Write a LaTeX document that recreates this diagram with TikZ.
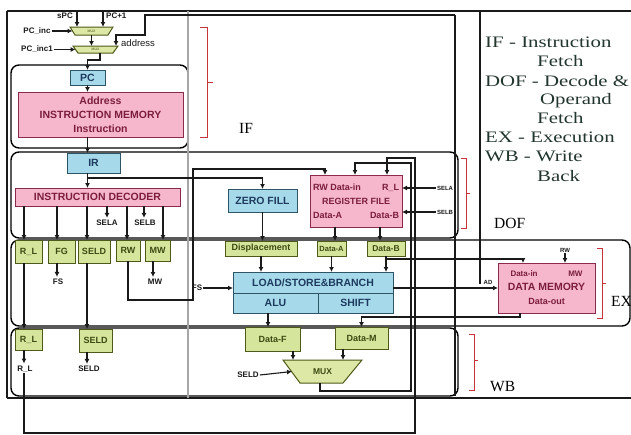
\documentclass[tikz,border=0pt]{standalone}
\usepackage{fontspec}
\setmainfont{Liberation Sans}
\newfontfamily\legendfont[FakeStretch=1.3]{Liberation Serif}
\newfontfamily\stagefont{Liberation Serif}
\usetikzlibrary{arrows.meta,calc}
\definecolor{cblue}{HTML}{A6D9EA}
\definecolor{cblueD}{HTML}{2D5566}
\definecolor{cblueT}{HTML}{1D3B5E}
\definecolor{cpink}{HTML}{F6B6CB}
\definecolor{cpinkD}{HTML}{8C2A4C}
\definecolor{cpinkT}{HTML}{7B1E3E}
\definecolor{cgreen}{HTML}{D5E59C}
\definecolor{cgreenD}{HTML}{4D5A1A}
\definecolor{cgreenT}{HTML}{3D4A12}
\definecolor{cmux}{HTML}{DDE8A6}
\definecolor{cline}{HTML}{1A1A1A}
\definecolor{cred}{HTML}{C8323A}
\definecolor{clegend}{HTML}{23362E}
\newcommand\myBx{\fontsize{10.5}{12}\selectfont\bfseries}
\newcommand\mySm{\fontsize{8}{9}\selectfont\bfseries}
\newcommand\myTn{\fontsize{6}{7}\selectfont\bfseries}
\newcommand\myLg{\legendfont\fontsize{16}{18}\selectfont}
\newcommand\mySt{\stagefont\fontsize{15.5}{18}\selectfont}
\begin{document}
\begin{tikzpicture}[x=1pt,y=-1pt,
  box/.style={draw, inner sep=0pt, outer sep=0pt, line width=1pt, font=\myBx, align=center},
  bluebox/.style={box, fill=cblue, draw=cblueD, text=cblueT},
  pinkbox/.style={box, fill=cpink, draw=cpinkD, text=cpinkT},
  greenbox/.style={box, fill=cgreen, draw=cgreenD, text=cgreenT, font=\fontsize{9}{10}\selectfont\bfseries},
  muxshape/.style={fill=cmux, draw=cgreenD, line width=1pt},
  muxlbl/.style={inner sep=0pt, outer sep=0pt, text=cgreenT},
  conn/.style={line width=1.1pt, draw=cline},
  arr/.style={conn, -{Latex[length=5pt,width=5pt]}},
  stagebox/.style={draw=black, line width=1.4pt, rounded corners=8pt},
  frameline/.style={draw=cline, line width=1.4pt},
  lbl/.style={font=\mySm, text=cline, inner sep=1pt},
  lbls/.style={font=\myTn, text=cline, inner sep=1pt},
  brk/.style={draw=cred, line width=0.9pt},
  legend/.style={font=\myLg, text=clegend, inner sep=0pt, anchor=base west},
  stlbl/.style={font=\mySt, text=black, inner sep=0pt, anchor=base west}]
\useasboundingbox (0,0) rectangle (631,434);
\fill[white] (0,0) rectangle (631,434);

% stage boxes
\draw[stagebox] (11,65) rectangle (188,148);
\draw[stagebox] (11,152) rectangle (458,238);
\draw[stagebox] (11,240) rectangle (630,326);
\draw[stagebox] (11,328) rectangle (458,396);

% frame lines
\draw[frameline] (7,11) -- (631,11);
\draw[frameline] (7,11) -- (7,398);
\draw[frameline] (7,398) -- (631,398);
\draw[frameline] (480,11) -- (480,284);
\draw[frameline] (455,15) -- (455,396);
\draw[draw=gray!70, line width=1.4pt] (188,11) -- (188,398);

% IF stage
\draw[muxshape] (70,27) -- (113,27) -- (108,35) -- (75,35) -- cycle;
\node[muxlbl, font=\fontsize{3.5}{4}\selectfont, minimum width=43pt, minimum height=8pt] (mux1) at (91.5,31) {MUX};
\draw[muxshape] (73,46) -- (118,46) -- (113,53) -- (78,53) -- cycle;
\node[muxlbl, font=\fontsize{3.5}{4}\selectfont, minimum width=45pt, minimum height=7pt] (mux2) at (95.5,49.5) {MUX};
\node[bluebox, minimum width=35pt, minimum height=15pt] (pc) at (87.5,77.5) {PC};
\node[pinkbox, minimum width=165pt, minimum height=45pt, font=\fontsize{10.5}{14}\selectfont\bfseries] (imem) at (100.5,114.5) {Address\\INSTRUCTION MEMORY\\Instruction};

\coordinate (spcin) at (77,11);
\coordinate (pc1in) at (103,11);
\node[lbl, anchor=east] (spc) at (74,16) {sPC};
\node[lbl, anchor=west] (pc1) at (105,16) {PC+1};
\draw[arr] (spcin) -- (spcin |- mux1.north);
\draw[arr] (pc1in) -- (pc1in |- mux1.north);
\node[lbl] (pcinc) at (37,31) {PC\_inc};
\draw[arr] (pcinc.east) -- ([xshift=2.5pt]mux1.west);
\draw[arr] (mux1.south) -- (mux1.south |- mux2.north);
\node[lbl] (pcinc1) at (37,49.5) {PC\_inc1};
\draw[arr] (pcinc1.east) -- ([xshift=2.5pt]mux2.west);
\node[font=\fontsize{9.5}{10}\selectfont, text=cline, inner sep=0pt, anchor=west] (addr) at (121,43) {address};
\coordinate (addrsrc) at (455,15);
\draw[arr] (addrsrc) -- (145,15) -- (145,35) -- (116,35) -- (116,35 |- mux2.north);
\draw[arr] (mux2.south -| 100,0) -- (100,60) -| (pc.north);
\draw[arr] (pc.south) -- (pc.south |- imem.north);

% DOF stage
\node[bluebox, minimum width=53pt, minimum height=20pt] (ir) at (93.5,163) {IR};
\node[pinkbox, minimum width=165pt, minimum height=18pt] (dec) at (97.5,197) {INSTRUCTION DECODER};
\node[bluebox, minimum width=69pt, minimum height=23pt] (zf) at (262.5,200.5) {ZERO FILL};
\node[pinkbox, minimum width=92pt, minimum height=52pt, font=\fontsize{9}{14}\selectfont\bfseries] (rf) at (356,201)
  {\makebox[86pt]{RW Data-in\hfill R\_L}\\REGISTER FILE\\\makebox[86pt]{Data-A\hfill Data-B}};

\draw[arr] (pc.south |- imem.south) -- (pc.south |- ir.north);
\draw[arr] (pc.south |- ir.south) -- (pc.south |- dec.north);
\coordinate (irb) at (87.5,178);
\draw[arr] (irb) -| (zf.north);

\node[lbl] (sela) at (107,223) {SELA};
\node[lbl] (selb) at (145,223) {SELB};
\draw[arr, shorten >=1pt] (dec.south -| sela.north) -- (sela.north);
\draw[arr, shorten >=1pt] (dec.south -| 144,0) -- (144,0 |- selb.north);

\node[lbls] (selar) at (445,188) {SELA};
\node[lbls] (selbr) at (445,212) {SELB};
\draw[arr] (selar.west) -- (selar.west -| rf.east);
\draw[arr] (selbr.west) -- (selbr.west -| rf.east);

% EX stage boxes
\node[greenbox, minimum width=27pt, minimum height=23pt] (rle) at (28.5,251.5) {R\_L};
\node[greenbox, minimum width=27pt, minimum height=23pt] (fg) at (61.5,251.5) {FG};
\node[greenbox, minimum width=32pt, minimum height=23pt] (selde) at (94,251.5) {SELD};
\node[greenbox, minimum width=24pt, minimum height=21pt] (rw) at (128,250.5) {RW};
\node[greenbox, minimum width=25pt, minimum height=21pt] (mw) at (157.5,250.5) {MW};
\node[greenbox, minimum width=72pt, minimum height=15pt, font=\fontsize{9}{10}\selectfont\bfseries] (disp) at (261,248.5) {Displacement};
\node[greenbox, minimum width=29pt, minimum height=15pt, font=\fontsize{7.5}{9}\selectfont\bfseries] (da) at (331.5,248.5) {Data-A};
\node[greenbox, minimum width=38pt, minimum height=15pt, font=\fontsize{8.5}{9}\selectfont\bfseries] (db) at (386,248.5) {Data-B};
\node[bluebox, minimum width=160pt, minimum height=21pt] (lsb) at (313,282.5) {LOAD/STORE\&BRANCH};
\node[bluebox, minimum width=85pt, minimum height=20pt] (alu) at (275.5,303) {ALU};
\node[bluebox, minimum width=75pt, minimum height=20pt] (shift) at (355.5,303) {SHIFT};
\node[pinkbox, minimum width=97pt, minimum height=50pt, font=\fontsize{9}{14}\selectfont\bfseries] (dm) at (546.5,288)
  {\makebox[72pt]{\fontsize{8}{9}\selectfont Data-in\hfill MW}\\\fontsize{10.5}{12}\selectfont DATA MEMORY\\Data-out};

\draw[arr] (dec.south -| 24,0) -- (rle.north -| 24,0);
\draw[arr] (dec.south -| 57,0) -- (fg.north -| 57,0);
\draw[arr] (dec.south -| 87,0) -- (selde.north -| 87,0);
\draw[arr] (dec.south -| 127,0) -- (rw.north -| 127,0);
\draw[arr] (dec.south -| 163,0) -- (mw.north -| 163,0);

\node[lbl] (fslab) at (58,282) {FS};
\node[lbl] (mwlab) at (155,282) {MW};
\draw[arr, shorten >=1pt] (fg.south -| 57,0) -- (fslab.north -| 57,0);
\draw[arr, shorten >=1pt] (mw.south -| 153,0) -- (mwlab.north -| 153,0);
\draw[arr] (rw.south) |- (193,300) -- (193,169) -| ([xshift=-31pt]rf.north);

\draw[arr] (zf.south) -- (zf.south |- disp.north);
\draw[arr] ([xshift=-21pt]rf.south) -- ([xshift=-21pt]rf.south |- da.north);
\draw[arr] ([xshift=24pt]rf.south) -- ([xshift=24pt]rf.south |- db.north);
\draw[arr] (disp.south) -- (disp.south |- lsb.north);
\draw[arr] (da.south) -- (da.south |- lsb.north);
\draw[arr] (db.south) -- (db.south |- lsb.north);
\draw[arr] ($(db.south)+(0,3)$) -| ([xshift=-23.5pt]dm.north);

\node[lbl] (fslsb) at (197,288) {FS};
\draw[arr] (fslsb.east) -- (fslsb.east -| lsb.west);
\node[lbls] (ad) at (488,282) {AD};
\draw[arr] (lsb.east |- 0,288) -- (dm.west |- 0,288);
\node[lbls] (rwdm) at (565,250) {RW};
\draw[arr] (rwdm.south) -- (rwdm.south |- dm.north);

% WB stage
\node[greenbox, minimum width=27pt, minimum height=21pt] (rlw) at (28.5,339.5) {R\_L};
\node[greenbox, minimum width=33pt, minimum height=23pt] (seldw) at (95.5,340.5) {SELD};
\node[greenbox, minimum width=55pt, minimum height=24pt] (df) at (272.5,339) {Data-F};
\node[greenbox, minimum width=53pt, minimum height=22pt] (dmm) at (361.5,338) {Data-M};
\draw[muxshape] (283,360) -- (362,360) -- (343,383) -- (300,383) -- cycle;
\node[muxlbl, font=\fontsize{8.5}{9}\selectfont\bfseries, minimum width=79pt, minimum height=23pt] (mux3) at (322.5,371.5) {MUX};

\draw[arr] (rle.south -| 24,0) -- (rlw.north -| 24,0);
\draw[arr] (selde.south -| 87,0) -- (seldw.north -| 87,0);
\node[lbl] (rllab) at (25,369) {R\_L};
\node[lbl] (seldlab) at (89,369) {SELD};
\draw[arr, shorten >=1pt] (rlw.south -| 24,0) -- (rllab.north -| 24,0);
\draw[arr, shorten >=1pt] (seldw.south -| 87,0) -- (seldlab.north -| 87,0);
\draw[arr] (rllab.south -| 24,0) -- (24,433) -- (415,433) -- (415,158) -| ([xshift=31pt]rf.north);

\draw[arr] (alu.south -| 268,0) -- (df.north -| 268,0);
\draw[arr] ([xshift=-26.5pt]dm.south) -- ++(0,4) -| (dmm.north);
\draw[arr] (df.south -| 293,0) -- (mux3.north -| 293,0);
\draw[arr] (dmm.south -| 343,0) -- (mux3.north -| 343,0);
\node[lbl] (seldm) at (248,375) {SELD};
\draw[arr] (seldm.east) -- ([xshift=9pt]mux3.west);
\draw[arr] (mux3.south -| 320,0) -- (320,391) -- (411,391) -- (411,163) -| ([xshift=-1pt]rf.north);

% brackets
\draw[brk] (200,27) -- (207,27) -- (207,137) -- (200,137);
\draw[brk] (207,82) -- (213,82);
\draw[brk] (461,158) -- (466,158) -- (466,228) -- (461,228);
\draw[brk] (466,193) -- (470,193);
\draw[brk] (597,248) -- (602,248) -- (602,318) -- (597,318);
\draw[brk] (602,283) -- (606,283);
\draw[brk] (469,334) -- (474,334) -- (474,390) -- (469,390);
\draw[brk] (474,360) -- (478,360);

% stage labels
\node[stlbl] (lif) at (239,133) {IF};
\node[stlbl] (ldof) at (494,228) {DOF};
\node[stlbl] (lex) at (611,306) {EX};
\node[stlbl] (lwb) at (490,391) {WB};

% legend
\node[legend] (g1) at (485,47) {IF};
\node[legend] (g1b) at (509,47) {- Instruction};
\node[legend] (g2) at (537,66) {Fetch};
\node[legend] (g3) at (485,86) {DOF - Decode \&};
\node[legend] (g4) at (540,104) {Operand};
\node[legend] (g5) at (537,123) {Fetch};
\node[legend] (g6) at (485,142) {EX};
\node[legend] (g6b) at (518,142) {- Execution};
\node[legend] (g7) at (485,161) {WB - Write};
\node[legend] (g8) at (537,181) {Back};
\end{tikzpicture}
\end{document}
